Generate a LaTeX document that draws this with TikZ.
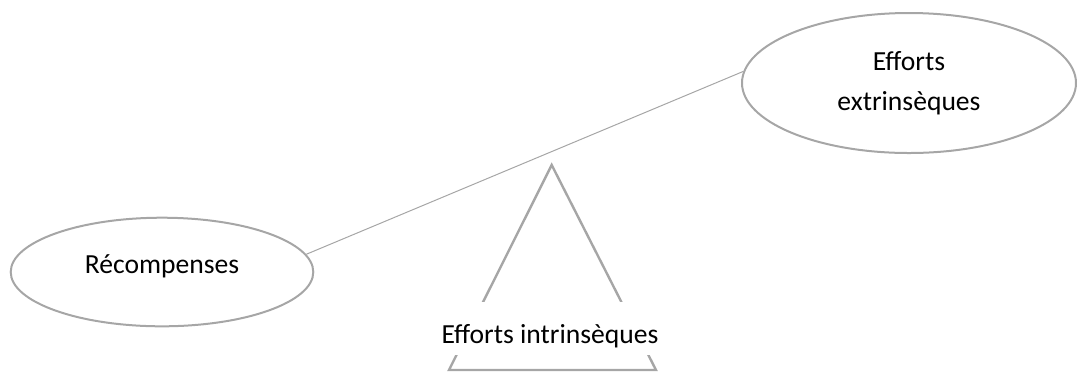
\documentclass[tikz,border=0pt]{standalone}
\usepackage{fontspec}
\setmainfont{Carlito}
\usepackage{tikz}
\usetikzlibrary{shapes.geometric}
\definecolor{shapegray}{HTML}{A6A6A6}

\begin{document}
\begin{tikzpicture}[x=0.5pt,y=-0.5pt,
  oval node/.style={ellipse,draw=shapegray,line width=1pt,inner sep=0pt,align=center,
    font=\fontsize{13.8}{20}\selectfont},
  base node/.style={fill=white,inner xsep=1pt,inner ysep=0pt,text height=20.5pt,text depth=6pt,
    font=\fontsize{13.8}{20}\selectfont}]
  \useasboundingbox (0,0) rectangle (1077,372);

  \node[oval node,minimum width=167pt,minimum height=70pt] (ext) at (909,83) {Efforts\\extrinsèques};
  \node[oval node,minimum width=151.3pt,minimum height=54.3pt,text depth=8pt] (rec) at (162,272) {Récompenses};

  \coordinate (top) at (551.7,165);
  \coordinate (left) at (449,370);
  \coordinate (right) at (656,370);
  \draw[shapegray,line width=1.2pt] (top) -- (left) -- (right) -- cycle;
  \node[base node,anchor=base] (intr) at (550,343) {Efforts intrinsèques};

  \path[draw=shapegray,line width=0.5pt]
    (rec.7.6) edge (ext.176);
\end{tikzpicture}
\end{document}
